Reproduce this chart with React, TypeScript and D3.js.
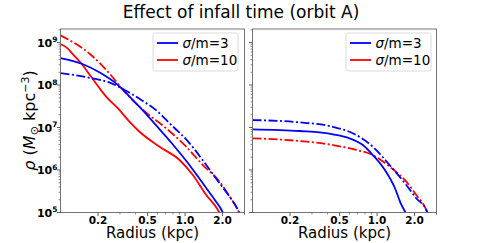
import React, { useEffect, useRef } from 'react'
import * as d3 from 'd3'

// radius (kpc) and density (Msun / kpc^3)
const leftBlueSolidR = [0.1, 0.15, 0.21, 0.287, 0.39, 0.456, 0.601, 0.779, 1.009, 1.26, 1.516, 1.758, 2.0, 2.11]
const leftBlueSolidRho = [4.32e8, 3.12e8, 1.91e8, 1.02e8, 4.13e7, 2.58e7, 1.03e7, 4.32e6, 1.72e6, 7.23e5, 3.39e5, 1.86e5, 1.02e5, 6.6e4]
const leftBlueDashR = [0.1, 0.175, 0.254, 0.325, 0.442, 0.601, 0.751, 1.087, 1.48, 1.892, 2.278, 2.655, 2.79]
const leftBlueDashRho = [1.91e8, 1.46e8, 1.11e8, 7.74e7, 4.51e7, 2.4e7, 1.26e7, 4.25e6, 1.31e6, 4.86e5, 2.36e5, 1.15e5, 8.28e4]
const leftRedDashR = [0.1, 0.175, 0.2385, 0.325, 0.46, 0.706, 1.022, 1.39, 1.892, 2.278, 2.655, 2.79]
const leftRedDashRho = [1.476e9, 5.16e8, 2.1e8, 7.11e7, 2.58e7, 9.57e6, 3.53e6, 1.31e6, 5.31e5, 2.36e5, 1.15e5, 8.28e4]
const leftRedSolidR = [0.1, 0.114, 0.125, 0.146, 0.175, 0.211, 0.2385, 0.287, 0.356, 0.431, 0.624, 0.903, 1.155, 1.48, 1.834, 1.928]
const leftRedSolidRho = [9.23e8, 7.3e8, 5.4e8, 3.3e8, 1.6e8, 7.6e7, 4.9e7, 2.88e7, 1.4e7, 7.96e6, 3.53e6, 1.72e6, 7.62e5, 2.58e5, 1.15e5, 8.73e4]

const rightBlueDashR = [0.1, 0.2385, 0.442, 0.681, 0.925, 1.26, 1.716, 2.065, 2.484, 2.593]
const rightBlueDashRho = [1.5e7, 1.32e7, 1.04e7, 6.67e6, 3.53e6, 1.31e6, 4.44e5, 2.16e5, 1.15e5, 8.28e4]
const rightBlueSolidR = [0.1, 0.2385, 0.442, 0.601, 0.769, 0.925, 1.155, 1.39, 1.545, 1.69, 1.758]
const rightBlueSolidRho = [9.08e6, 8.28e6, 6.92e6, 5.57e6, 3.87e6, 2.25e6, 1.0e6, 3.77e5, 1.67e5, 1.0e5, 7.8e4]
const rightRedDashR = [0.1, 0.2385, 0.442, 0.681, 0.925, 1.26, 1.716, 2.065, 2.484, 2.593]
const rightRedDashRho = [5.57e6, 4.81e6, 3.87e6, 2.96e6, 2.25e6, 1.2e6, 5.31e5, 2.58e5, 1.15e5, 8.28e4]

const xTicks = [0.2, 0.5, 1.0, 2.0]
const yTicks = [1e5, 1e6, 1e7, 1e8, 1e9]
const legendLabels = ['3', '10']

const BLUE = '#0000ff'
const RED = '#ff0000'
const DASHDOT = '9,2.5,2,2.5'

const W = 486, H = 243
const top = 29, bottom = 212.5
const panels = [
  { x0: 60.5, x1: 244.5, showY: true, legendX: 153 },
  { x0: 252.5, x1: 436.5, showY: false, legendX: 346 },
]

const zip = (rs: number[], vs: number[]) => rs.map((r, i) => ({ r, v: vs[i] }))

const leftCurves = [
  { data: zip(leftRedSolidR, leftRedSolidRho), color: RED, dash: null },
  { data: zip(leftRedDashR, leftRedDashRho), color: RED, dash: DASHDOT },
  { data: zip(leftBlueSolidR, leftBlueSolidRho), color: BLUE, dash: null },
  { data: zip(leftBlueDashR, leftBlueDashRho), color: BLUE, dash: DASHDOT },
]
const rightCurves = [
  { data: zip(rightRedDashR, rightRedDashRho), color: RED, dash: DASHDOT },
  { data: zip(rightBlueSolidR, rightBlueSolidRho), color: BLUE, dash: null },
  { data: zip(rightBlueDashR, rightBlueDashRho), color: BLUE, dash: DASHDOT },
]

export default function App() {
  const ref = useRef<SVGSVGElement>(null)

  useEffect(() => {
    const svg = d3.select(ref.current)
    svg.selectAll('*').remove()
    const font = 'DejaVu Sans'

    const y = d3.scaleLog().domain([1e5, 2.08e9]).range([bottom, top])

    svg.append('text')
      .attr('x', 241).attr('y', 18)
      .attr('text-anchor', 'middle')
      .style('font-family', font).style('font-size', '17px')
      .text('Effect of infall time (orbit A)')

    panels.forEach((p, pi) => {
      const x = d3.scaleLog().domain([0.1, 3]).range([p.x0, p.x1])
      const g = svg.append('g')

      g.append('clipPath').attr('id', 'clip' + pi)
        .append('rect').attr('x', p.x0).attr('y', top)
        .attr('width', p.x1 - p.x0).attr('height', bottom - top)

      const line = d3.line<{ r: number; v: number }>()
        .x(d => x(d.r)).y(d => y(d.v))
        .curve(d3.curveMonotoneX)

      const curves = pi === 0 ? leftCurves : rightCurves
      curves.forEach(c => {
        g.append('path')
          .attr('d', line(c.data))
          .attr('clip-path', 'url(#clip' + pi + ')')
          .attr('fill', 'none')
          .attr('stroke', c.color)
          .attr('stroke-width', 1.8)
          .attr('stroke-dasharray', c.dash)
      })

      // minor ticks
      const xMinor: number[] = []
      const yMinor: number[] = []
      for (let e = -1; e <= 0; e++) for (let k = 1; k <= 9; k++) {
        const v = k * Math.pow(10, e)
        if (v > 0.1 && v <= 3 && xTicks.indexOf(v) < 0) xMinor.push(v)
      }
      xMinor.push(3)
      for (let e = 5; e <= 9; e++) for (let k = 2; k <= 9; k++) {
        const v = k * Math.pow(10, e)
        if (v <= 2.08e9) yMinor.push(v)
      }
      xMinor.forEach(v => {
        g.append('line').attr('x1', x(v)).attr('x2', x(v))
          .attr('y1', bottom).attr('y2', bottom + 2)
          .attr('stroke', '#444').attr('stroke-width', 0.6)
      })
      yMinor.forEach(v => {
        g.append('line').attr('x1', p.x0).attr('x2', p.x0 - 2)
          .attr('y1', y(v)).attr('y2', y(v))
          .attr('stroke', '#444').attr('stroke-width', 0.6)
      })

      xTicks.forEach(v => {
        g.append('line').attr('x1', x(v)).attr('x2', x(v))
          .attr('y1', bottom).attr('y2', bottom + 3.5)
          .attr('stroke', '#333').attr('stroke-width', 0.8)
        g.append('text')
          .attr('x', x(v)).attr('y', 223.5)
          .attr('text-anchor', 'middle')
          .style('font-family', font).style('font-size', '10.5px').style('font-weight', 'bold')
          .text(v.toFixed(1))
      })

      yTicks.forEach(v => {
        g.append('line').attr('x1', p.x0).attr('x2', p.x0 - 3.5)
          .attr('y1', y(v)).attr('y2', y(v))
          .attr('stroke', '#333').attr('stroke-width', 0.8)
        if (p.showY) {
          const t = g.append('text')
            .attr('x', 57.5).attr('y', y(v) + 4)
            .attr('text-anchor', 'end')
            .style('font-family', font).style('font-size', '11px').style('font-weight', 'bold')
          t.append('tspan').text('10')
          t.append('tspan').attr('dy', -4.5).style('font-size', '7.5px')
            .text(String(Math.round(Math.log10(v))))
        }
      })

      g.append('rect')
        .attr('x', p.x0).attr('y', top)
        .attr('width', p.x1 - p.x0).attr('height', bottom - top)
        .attr('fill', 'none').attr('stroke', '#666').attr('stroke-width', 0.9)

      g.append('text')
        .attr('x', (p.x0 + p.x1) / 2).attr('y', 238)
        .attr('text-anchor', 'middle')
        .style('font-family', font).style('font-size', '15px')
        .text('Radius (kpc)')

      // legend
      const lg = g.append('g').attr('transform', 'translate(' + p.legendX + ',33)')
      lg.append('rect').attr('width', 85).attr('height', 38).attr('rx', 2.5)
        .attr('fill', 'white').attr('fill-opacity', 0.8)
        .attr('stroke', '#d0d0d0').attr('stroke-width', 0.8)
      legendLabels.forEach((lab, i) => {
        const cy = 10 + i * 17
        lg.append('line').attr('x1', 4).attr('x2', 25).attr('y1', cy).attr('y2', cy)
          .attr('stroke', i === 0 ? BLUE : RED).attr('stroke-width', 1.8)
        const t = lg.append('text').attr('x', 29.5).attr('y', cy + 4.8)
          .style('font-family', font).style('font-size', '13.5px')
        t.append('tspan').style('font-style', 'italic').text('σ')
        t.append('tspan').text('/m=' + lab)
      })
    })

    // y label
    const yl = svg.append('text')
      .attr('transform', 'translate(35,120.5) rotate(-90)')
      .attr('text-anchor', 'middle')
      .style('font-family', font).style('font-size', '16px')
    yl.append('tspan').style('font-style', 'italic').text('ρ')
    yl.append('tspan').text(' (')
    yl.append('tspan').style('font-style', 'italic').text('M')
    yl.append('tspan').attr('dy', 3).style('font-size', '11px').text('⊙')
    yl.append('tspan').attr('dy', -3).text(' kpc')
    yl.append('tspan').attr('dy', -6.5).style('font-size', '11px').text('−3')
    yl.append('tspan').attr('dy', 6.5).text(')')
  }, [])

  return (
    <svg ref={ref} width={W} height={H}
      style={{ position: 'absolute', left: 0, top: 0, background: 'white' }} />
  )
}
